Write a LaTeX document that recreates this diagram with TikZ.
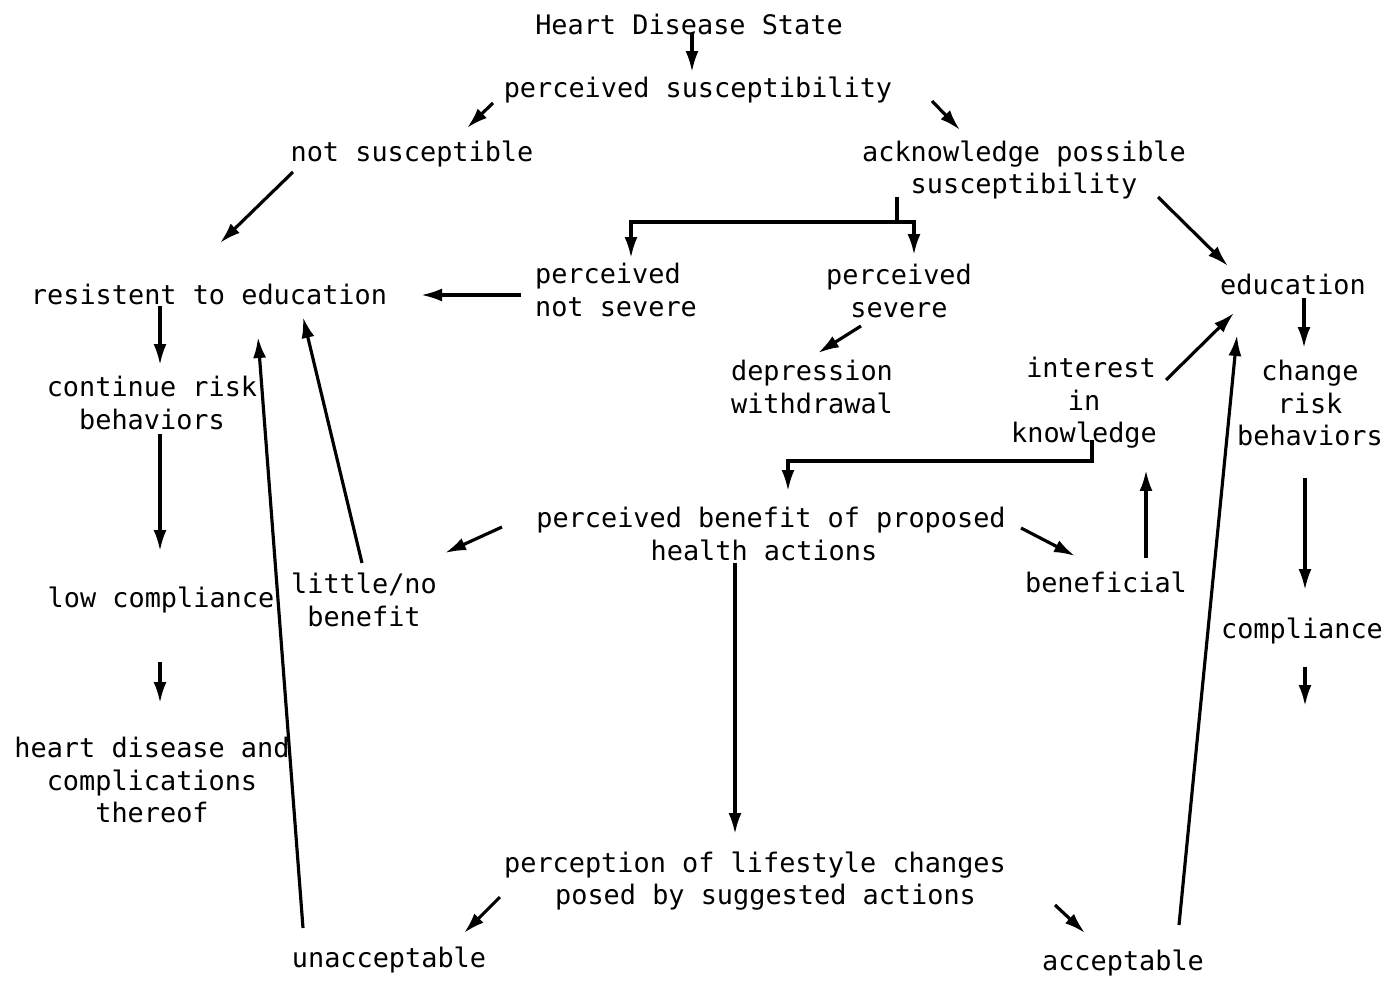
\documentclass[tikz,border=0pt]{standalone}
\usepackage{fontspec}
\setmonofont{DejaVu Sans Mono}
\usetikzlibrary{arrows.meta,calc}
\tikzset{>={Latex[length=4.2mm,width=2.6mm]}}
\tikzset{
  txt/.style={font=\ttfamily\fontsize{15.3}{18.4}\selectfont, align=center, inner sep=1pt},
  arr/.style={->, line width=1.8pt}
}

\begin{document}
\begin{tikzpicture}[x=0.02cm, y=-0.02cm]

      \useasboundingbox (0,0) rectangle (1390,983);

      \node[txt] (hds) at (689,24) {Heart Disease State}; %top
      \node[txt] (psusc) at (698,90) {perceived susceptibility};
      \node[txt] (nsusc) at (412,154) {not susceptible};
      \node[txt] (ack) at (1024,170) {acknowledge possible\\susceptibility};
      \node[txt, align=left] (pns) at (616,290) {perceived\\not severe};
      \node[txt] (psev) at (899,291) {perceived\\severe};
      \node[txt] (resist) at (209,294) {resistent to education};
      \node[txt] (educ) at (1293,284) {education};
      \node[txt] (depr) at (812,387) {depression\\withdrawal};
      \node[txt] (inter) at (1084,403) {\hspace*{8pt}interest\\in\\knowledge};
      \node[txt] (chng) at (1310,403) {change\\risk\\behaviors};
      \node[txt] (cont) at (152,403) {continue risk\\behaviors};
      \node[txt] (pben) at (771,534) {perceived benefit of proposed\\health actions\hspace*{8pt}};
      \node[txt] (little) at (364,600) {little/no\\benefit};
      \node[txt] (benef) at (1106,582) {beneficial};
      \node[txt] (lowc) at (161,600) {low compliance};
      \node[txt] (comp) at (1302,631) {compliance};
      \node[txt] (hdc) at (152,780) {heart disease and\\complications\\thereof};
      \node[txt] (plife) at (755,881) {perception of lifestyle changes\\\hspace*{12pt}posed by suggested actions};
      \node[txt] (unacc) at (389,960) {unacceptable};
      \node[txt] (acc) at (1123,963) {acceptable};

      \coordinate (fork) at ([shift={(-127,52)}]ack.center);
      \coordinate (knee) at ([shift={(8,58)}]inter.center);
      \coordinate (compout) at ([shift={(3,75)}]comp.center);

      \draw[arr] ([shift={(3,9)}]hds.center) -- ([shift={(-6,-18)}]psusc.center);
      \draw[arr] ([shift={(-205,13)}]psusc.center) -- ([shift={(55,-26)}]nsusc.center);
      \draw[arr] ([shift={(234,11)}]psusc.center) -- ([shift={(-64,-40)}]ack.center);
      \draw[arr] ([shift={(-119,18)}]nsusc.center) -- ([shift={(11,-51)}]resist.center);
      \draw[line width=1.8pt] ([shift={(-127,27)}]ack.center) -- (fork);
      \draw[arr] (fork) -| ([shift={(15,-32)}]pns.center);
      \draw[arr] (fork) -| ([shift={(15,-36)}]psev.center);
      \draw[arr] ([shift={(134,27)}]ack.center) -- ([shift={(-65,-18)}]educ.center);
      \draw[arr] ([shift={(-95,5)}]pns.center) -- ([shift={(212,1)}]resist.center);
      \draw[arr] ([shift={(-38,35)}]psev.center) -- ([shift={(6,-34)}]depr.center);

      % left column
      \draw[arr] ([shift={(-49,12)}]resist.center) -- ([shift={(8,-38)}]cont.center);
      \draw[arr] ([shift={(8,31)}]cont.center) -- ([shift={(-1,-49)}]lowc.center);
      \draw[arr] ([shift={(-1,62)}]lowc.center) -- ([shift={(8,-77)}]hdc.center);
      \draw[arr] ([shift={(-2,-37)}]little.center) -- ([shift={(94,23)}]resist.center);
      \draw[arr] ([shift={(-86,-32)}]unacc.center) -- ([shift={(49,43)}]resist.center);

      % benefit
      \draw[arr] ([shift={(-269,-7)}]pben.center) -- ([shift={(81,-47)}]little.center);
      \draw[arr] ([shift={(250,-6)}]pben.center) -- ([shift={(-31,-26)}]benef.center);
      \draw[arr] ([shift={(40,-24)}]benef.center) -- ([shift={(62,67)}]inter.center);
      \draw[arr] ([shift={(8,37)}]inter.center) -- (knee) -| ([shift={(17,-43)}]pben.center);
      \draw[arr] ([shift={(82,-23)}]inter.center) -- ([shift={(-59,29)}]educ.center);
      \draw[arr] ([shift={(-36,29)}]pben.center) -- ([shift={(-20,-47)}]plife.center);

      % right column
      \draw[arr] ([shift={(11,14)}]educ.center) -- ([shift={(-6,-55)}]chng.center);
      \draw[arr] ([shift={(-5,75)}]chng.center) -- ([shift={(3,-41)}]comp.center);
      \draw[arr] ([shift={(3,36)}]comp.center) -- (compout);

      % lifestyle
      \draw[arr] ([shift={(-255,16)}]plife.center) -- ([shift={(75,-27)}]unacc.center);
      \draw[arr] ([shift={(300,24)}]plife.center) -- ([shift={(-38,-30)}]acc.center);
      \draw[arr] ([shift={(56,-38)}]acc.center) -- ([shift={(-56,51)}]educ.center);

\end{tikzpicture}
\end{document}
